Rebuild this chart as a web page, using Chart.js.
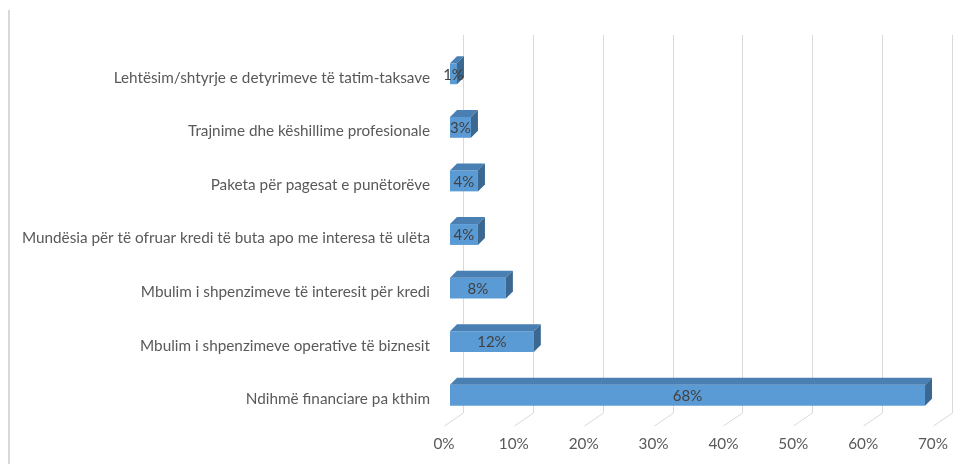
<!DOCTYPE html>
<html>
<head>
<meta charset="utf-8">
<script src="https://cdn.jsdelivr.net/npm/chart.js@4"></script>
<style>
  html, body { margin: 0; padding: 0; background: #fff; }
  #wrap { position: relative; width: 979px; height: 464px; }
</style>
</head>
<body>
<div id="wrap"><canvas id="masaChart"></canvas></div>
<script>
// Kategoritë (nga lart poshtë)
const kategorite = [
    'Lehtësim/shtyrje e detyrimeve të tatim-taksave',
    'Trajnime dhe këshillime profesionale',
    'Paketa për pagesat e punëtorëve',
    'Mundësia për të ofruar kredi të buta apo me interesa të ulëta',
    'Mbulim i shpenzimeve të interesit për kredi',
    'Mbulim i shpenzimeve operative të biznesit',
    'Ndihmë financiare pa kthim'
];
// Përqindjet
const vlerat = [1, 3, 4, 4, 8, 12, 68];
// Etiketat e boshtit X
const tickMin = 0;
const tickMax = 70;
const tickHapi = 10;

const FONT = 'Lato, "Liberation Sans", sans-serif';
const DEPTH = 7;       // thellësia e shiritave 3D
const WALL_DX = 13;    // zhvendosja e murit të pasmë
const FLOOR_DX = -6;   // skaji i përparmë i dyshemesë

// Plugin: kornizë, rrjet 3D, faqet anësore të shiritave dhe etiketat
const efekt3D = {
    id: 'efekt3D',
    beforeDatasetsDraw(chart) {
        const ctx = chart.ctx;
        const area = chart.chartArea;
        const xs = chart.scales.x;
        ctx.save();
        // vija e kornizës majtas
        ctx.strokeStyle = '#d9d9d9';
        ctx.lineWidth = 2;
        ctx.beginPath();
        ctx.moveTo(9, 10);
        ctx.lineTo(9, chart.height);
        ctx.stroke();
        // vijat e rrjetit (muri i pasmë + dyshemeja)
        ctx.lineWidth = 1;
        ctx.strokeStyle = '#d9d9d9';
        const top = area.top - 12;
        const floorBack = area.bottom - 9;
        const floorFront = floorBack + 13;
        for (let v = tickMin; v <= tickMax; v += tickHapi) {
            const px = Math.round(xs.getPixelForValue(v));
            ctx.beginPath();
            ctx.moveTo(px + WALL_DX + 0.5, top);
            ctx.lineTo(px + WALL_DX + 0.5, floorBack);
            ctx.lineTo(px + FLOOR_DX + 0.5, floorFront);
            ctx.stroke();
        }
        ctx.restore();
    },
    afterDatasetsDraw(chart) {
        const ctx = chart.ctx;
        const meta = chart.getDatasetMeta(0);
        ctx.save();
        meta.data.forEach((bar, i) => {
            const p = bar.getProps(['x', 'y', 'base', 'height'], true);
            const t = p.y - p.height / 2;
            const b = p.y + p.height / 2;
            // faqja e sipërme
            ctx.fillStyle = '#4a7fb3';
            ctx.beginPath();
            ctx.moveTo(p.base, t);
            ctx.lineTo(p.x, t);
            ctx.lineTo(p.x + DEPTH, t - DEPTH);
            ctx.lineTo(p.base + DEPTH, t - DEPTH);
            ctx.closePath();
            ctx.fill();
            // faqja anësore
            ctx.fillStyle = '#3a6891';
            ctx.beginPath();
            ctx.moveTo(p.x, t);
            ctx.lineTo(p.x + DEPTH, t - DEPTH);
            ctx.lineTo(p.x + DEPTH, b - DEPTH);
            ctx.lineTo(p.x, b);
            ctx.closePath();
            ctx.fill();
            // etiketa e vlerës
            ctx.fillStyle = '#404040';
            ctx.font = '15px ' + FONT;
            ctx.textAlign = 'center';
            ctx.textBaseline = 'middle';
            ctx.fillText(vlerat[i] + '%', (p.base + p.x) / 2, p.y + 1);
        });
        ctx.restore();
    }
};

document.addEventListener('DOMContentLoaded', function () {
    const canvas = document.getElementById('masaChart');
    const ctx = canvas.getContext('2d');

    new Chart(ctx, {
        type: 'bar',
        data: {
            labels: kategorite,
            datasets: [{
                data: vlerat,
                backgroundColor: '#5b9bd5',
                borderWidth: 0,
                barPercentage: 0.78,
                categoryPercentage: 0.5
            }]
        },
        options: {
            indexAxis: 'y',
            responsive: true,
            maintainAspectRatio: false,
            animation: false,
            layout: { padding: { top: 47, right: 40, left: 0, bottom: 0 } },
            plugins: {
                legend: { display: false },
                tooltip: { enabled: false }
            },
            scales: {
                x: {
                    min: tickMin,
                    max: tickMax,
                    border: { display: false },
                    grid: { display: false, drawTicks: false },
                    afterFit(scale) { scale.height = 42; },
                    ticks: {
                        stepSize: tickHapi,
                        padding: 13,
                        labelOffset: -6,
                        color: '#595959',
                        font: { family: FONT, size: 15.3 },
                        callback: v => v + '%'
                    }
                },
                y: {
                    border: { display: false },
                    grid: { display: false, drawTicks: false },
                    afterFit(scale) { scale.width = 450; },
                    ticks: {
                        padding: 20,
                        labelOffset: 4,
                        color: '#595959',
                        font: { family: FONT, size: 15.3 }
                    }
                }
            }
        },
        plugins: [efekt3D]
    });
});
</script>
</body>
</html>
